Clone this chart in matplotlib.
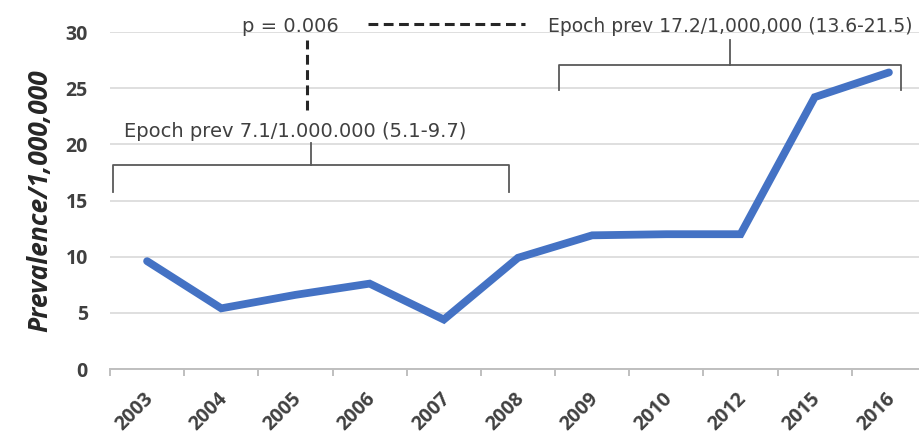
import matplotlib
matplotlib.use("Agg")
import matplotlib.pyplot as plt
from matplotlib.transforms import ScaledTranslation

years = ["2003", "2004", "2005", "2006", "2007", "2008", "2009", "2010", "2012", "2015", "2016"]
prevalence = [9.6, 5.4, 6.6, 7.6, 4.4, 9.9, 11.9, 12.0, 12.0, 24.2, 26.4]
yticks = [0, 5, 10, 15, 20, 25, 30]
ylabel = "Prevalence/1,000,000"
epoch1_text = "Epoch prev 7.1/1.000.000 (5.1-9.7)"
epoch2_text = "Epoch prev 17.2/1,000,000 (13.6-21.5)"
p_text = "p = 0.006"

W, H = 919, 436
fig = plt.figure(figsize=(W / 100, H / 100), dpi=100)
ax = fig.add_axes([110 / W, (H - 369) / H, (926 - 110) / W, (369 - 32) / H])

x = list(range(len(years)))
ax.plot(x, prevalence, color="#4472C4", linewidth=5.6, solid_joinstyle="miter", solid_capstyle="round", zorder=3)

ax.set_xlim(-0.5, len(years) - 0.5)
ax.set_ylim(0, 30)
ax.set_yticks(yticks)
ax.grid(axis="y", color="#d9d9d9", linewidth=1.2)
ax.set_axisbelow(True)
for s in ["top", "right", "left"]:
    ax.spines[s].set_visible(False)
ax.spines["bottom"].set_color("#bfbfbf")
ax.spines["bottom"].set_linewidth(1.4)

ax.set_xticks(x)
ax.set_xticklabels(years, rotation=45, ha="right", va="top", rotation_mode="anchor",
                   fontsize=14, fontweight="bold", color="#404040", family="Open Sans")
ax.tick_params(axis="x", length=0, pad=14)
ax.set_xticks([i - 0.5 for i in range(len(years) + 1)], minor=True)
ax.tick_params(axis="x", which="minor", length=5, color="#bfbfbf", width=1.4)
offset = ScaledTranslation(-4 / 100, 0, fig.dpi_scale_trans)
for lab in ax.get_xticklabels():
    lab.set_transform(lab.get_transform() + offset)

ax.tick_params(axis="y", length=0, pad=16)
for lab in ax.get_yticklabels():
    lab.set_fontsize(14)
    lab.set_fontweight("bold")
    lab.set_color("#404040")
    lab.set_family("Open Sans")

ax.set_ylabel(ylabel, fontsize=19, fontweight="bold", fontstyle="italic", color="#262626",
              family="Open Sans")
ax.yaxis.set_label_coords(-0.069, 0.5)

bc = "#595959"
tc = "#404040"
# left bracket
ax.plot([-0.46, -0.46, 4.88, 4.88], [15.8, 18.2, 18.2, 15.8], color=bc, lw=1.3, clip_on=False)
ax.plot([2.21, 2.21], [18.2, 20.1], color=bc, lw=1.3, clip_on=False)
ax.text(2.0, 21.1, epoch1_text, ha="center", va="center", fontsize=14, color=tc, family="DejaVu Sans")
# right bracket
ax.plot([5.55, 5.55, 10.16, 10.16], [24.8, 27.1, 27.1, 24.8], color=bc, lw=1.3, clip_on=False)
ax.plot([7.86, 7.86], [27.1, 29.3], color=bc, lw=1.3, clip_on=False)
ax.text(7.86, 30.45, epoch2_text, ha="center", va="center", fontsize=13.5, color=tc, family="DejaVu Sans", clip_on=False)
# p-value
ax.text(1.93, 30.45, p_text, ha="center", va="center", fontsize=14, color=tc, family="DejaVu Sans", clip_on=False)
ax.plot([2.16, 2.16], [23.1, 29.3], color="#262626", lw=2.2, ls=(0, (3.2, 1.8)), clip_on=False)
ax.plot([2.98, 5.1], [30.7, 30.7], color="#262626", lw=2.2, ls=(0, (3.2, 1.8)), clip_on=False)

fig.savefig("out.png", dpi=100)
